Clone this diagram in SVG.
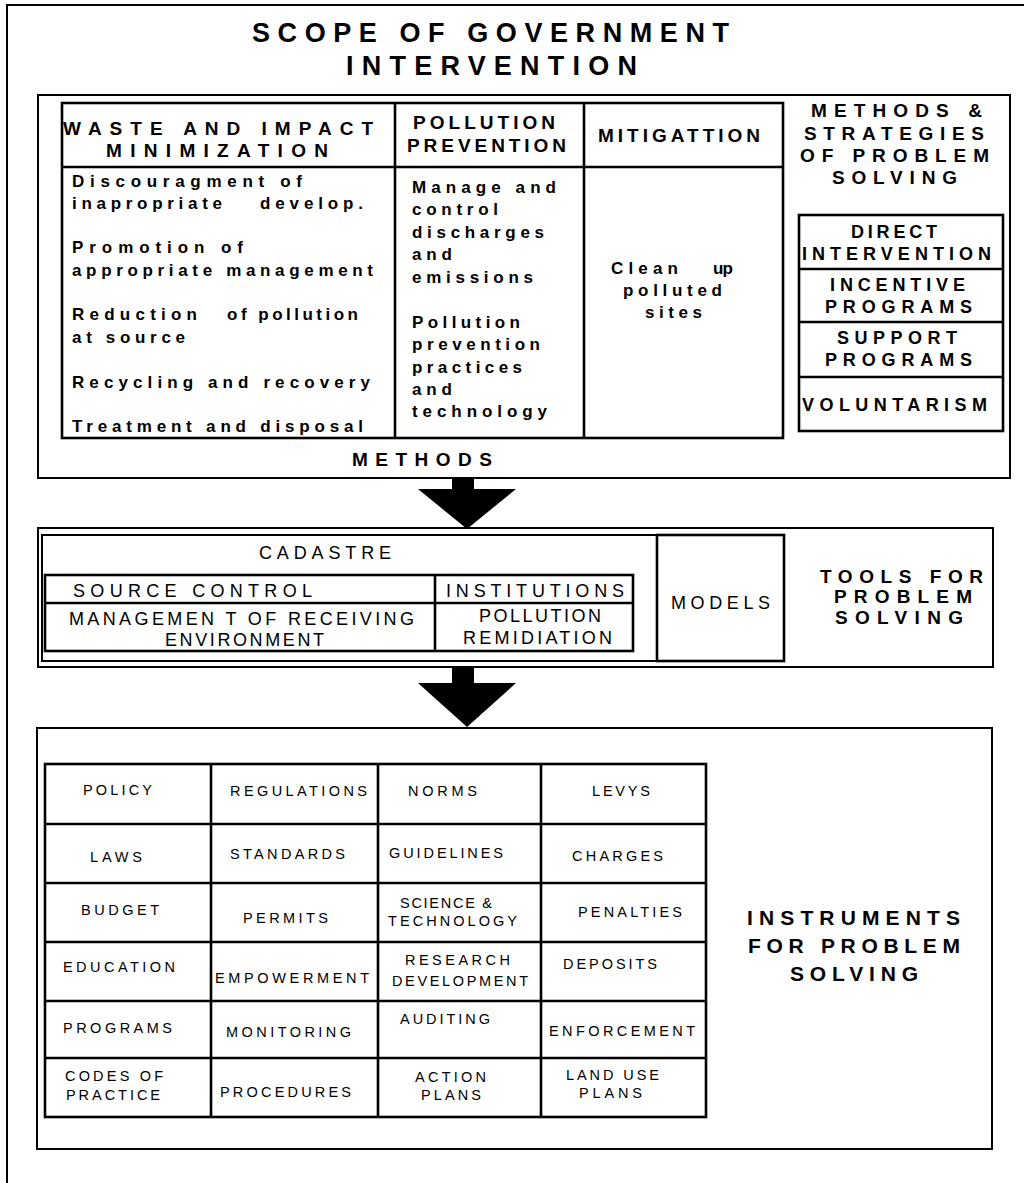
<svg xmlns="http://www.w3.org/2000/svg" width="1024" height="1183" viewBox="0 0 1024 1183">
<style>
text{font-family:"Liberation Sans",Arial,sans-serif;fill:#000}
.t{font-size:27px;font-weight:bold}
.h{font-size:19px;font-weight:bold}
.b{font-size:17px;font-weight:bold}
.s{font-size:18px;font-weight:bold}
.r{font-size:18px}
.g{font-size:14.5px}
.k{font-size:21px;font-weight:bold}
.box{fill:none;stroke:#000;stroke-width:2}
.thick{fill:none;stroke:#000;stroke-width:2.6}
.ln{stroke:#000;stroke-width:2.6}
</style>
<rect width="1024" height="1183" fill="#fff"/>
<g id="frame"><polyline points="7,1183 7,5 1024,5" class="box"/>
<text class="t" x="252" y="42" textLength="477" lengthAdjust="spacing">SCOPE OF GOVERNMENT</text>
<text class="t" x="346" y="75" textLength="291" lengthAdjust="spacing">INTERVENTION</text>
</g>
<g id="methods-box">
<rect x="38" y="95" width="972" height="383" class="box"/>
<rect x="62" y="103" width="721" height="335" class="thick"/>
<line x1="62" y1="167" x2="783" y2="167" class="ln"/>
<line x1="395" y1="103" x2="395" y2="438" class="ln"/>
<line x1="584" y1="103" x2="584" y2="438" class="ln"/>
<text class="h" x="63" y="135" textLength="310" lengthAdjust="spacing">WASTE AND IMPACT</text>
<text class="h" x="106" y="157" textLength="222" lengthAdjust="spacing">MINIMIZATION</text>
<text class="h" x="413" y="129" textLength="142" lengthAdjust="spacing">POLLUTION</text>
<text class="h" x="407" y="152" textLength="159" lengthAdjust="spacing">PREVENTION</text>
<text class="h" x="598" y="142" textLength="162" lengthAdjust="spacing">MITIGATTION</text>
<text class="b" x="72" y="187" textLength="230" lengthAdjust="spacing">Discouragment of</text>
<text class="b" x="72" y="209" textLength="150" lengthAdjust="spacing">inapropriate</text>
<text class="b" x="260" y="209" textLength="103" lengthAdjust="spacing">develop.</text>
<text class="b" x="72" y="253" textLength="171" lengthAdjust="spacing">Promotion of</text>
<text class="b" x="72" y="276" textLength="301" lengthAdjust="spacing">appropriate management</text>
<text class="b" x="72" y="320" textLength="125" lengthAdjust="spacing">Reduction</text>
<text class="b" x="227" y="320" textLength="131" lengthAdjust="spacing">of pollution</text>
<text class="b" x="72" y="343" textLength="113" lengthAdjust="spacing">at source</text>
<text class="b" x="72" y="388" textLength="298" lengthAdjust="spacing">Recycling and recovery</text>
<text class="b" x="72" y="432" textLength="291" lengthAdjust="spacing">Treatment and disposal</text>
<text class="b" x="412" y="193" textLength="144" lengthAdjust="spacing">Manage and</text>
<text class="b" x="412" y="215" textLength="86" lengthAdjust="spacing">control</text>
<text class="b" x="412" y="238" textLength="132" lengthAdjust="spacing">discharges</text>
<text class="b" x="412" y="260" textLength="40" lengthAdjust="spacing">and</text>
<text class="b" x="412" y="283" textLength="121" lengthAdjust="spacing">emissions</text>
<text class="b" x="412" y="328" textLength="108" lengthAdjust="spacing">Pollution</text>
<text class="b" x="412" y="350" textLength="128" lengthAdjust="spacing">prevention</text>
<text class="b" x="412" y="373" textLength="110" lengthAdjust="spacing">practices</text>
<text class="b" x="412" y="395" textLength="40" lengthAdjust="spacing">and</text>
<text class="b" x="412" y="417" textLength="135" lengthAdjust="spacing">technology</text>
<text class="b" x="611" y="274" textLength="67" lengthAdjust="spacing">Clean</text>
<text class="b" x="713" y="274" textLength="20" lengthAdjust="spacing">up</text>
<text class="b" x="623" y="296" textLength="99" lengthAdjust="spacing">polluted</text>
<text class="b" x="645" y="318" textLength="57" lengthAdjust="spacing">sites</text>
<text class="h" x="811" y="117" textLength="171" lengthAdjust="spacing">METHODS &amp;</text>
<text class="h" x="804" y="140" textLength="180" lengthAdjust="spacing">STRATEGIES</text>
<text class="h" x="800" y="162" textLength="189" lengthAdjust="spacing">OF PROBLEM</text>
<text class="h" x="832" y="184" textLength="125" lengthAdjust="spacing">SOLVING</text>
<text class="h" x="352" y="466" textLength="140" lengthAdjust="spacing">METHODS</text>
</g>
<g id="strategies">
<rect x="799" y="215" width="204" height="216" class="thick"/>
<line x1="799" y1="269" x2="1003" y2="269" class="ln"/>
<line x1="799" y1="322" x2="1003" y2="322" class="ln"/>
<line x1="799" y1="377" x2="1003" y2="377" class="ln"/>
<text class="s" x="851" y="238" textLength="86" lengthAdjust="spacing">DIRECT</text>
<text class="s" x="802" y="260" textLength="189" lengthAdjust="spacing">INTERVENTION</text>
<text class="s" x="830" y="291" textLength="135" lengthAdjust="spacing">INCENTIVE</text>
<text class="s" x="825" y="313" textLength="147" lengthAdjust="spacing">PROGRAMS</text>
<text class="s" x="837" y="344" textLength="120" lengthAdjust="spacing">SUPPORT</text>
<text class="s" x="825" y="366" textLength="147" lengthAdjust="spacing">PROGRAMS</text>
<text class="s" x="802" y="411" textLength="185" lengthAdjust="spacing">VOLUNTARISM</text>
</g>
<g id="connectors">
<rect x="452" y="478" width="22" height="12" fill="#000"/>
<polygon points="418,489 516,489 467,529" fill="#000"/>
<rect x="452" y="667" width="22" height="17" fill="#000"/>
<polygon points="418,683 516,683 467,727" fill="#000"/>
</g>
<g id="tools-box">
<rect x="38" y="528" width="955" height="139" class="box"/>
<rect x="42" y="535" width="615" height="126" class="box"/>
<rect x="657" y="535" width="127" height="126" class="thick"/>
<rect x="45" y="575" width="588" height="76" class="thick"/>
<line x1="45" y1="603" x2="633" y2="603" class="ln"/>
<line x1="435" y1="575" x2="435" y2="651" class="ln"/>
<text class="r" x="259" y="559" textLength="132" lengthAdjust="spacing">CADASTRE</text>
<text class="r" x="73" y="597" textLength="239" lengthAdjust="spacing">SOURCE CONTROL</text>
<text class="r" x="446" y="597" textLength="178" lengthAdjust="spacing">INSTITUTIONS</text>
<text class="r" x="69" y="625" textLength="345" lengthAdjust="spacing">MANAGEMEN T OF  RECEIVING</text>
<text class="r" x="165" y="646" textLength="159" lengthAdjust="spacing">ENVIRONMENT</text>
<text class="r" x="479" y="622" textLength="122" lengthAdjust="spacing">POLLUTION</text>
<text class="r" x="463" y="644" textLength="149" lengthAdjust="spacing">REMIDIATION</text>
<text class="r" x="671" y="609" textLength="99" lengthAdjust="spacing">MODELS</text>
<text class="h" x="820" y="583" textLength="163" lengthAdjust="spacing">TOOLS FOR</text>
<text class="h" x="834" y="603" textLength="138" lengthAdjust="spacing">PROBLEM</text>
<text class="h" x="835" y="624" textLength="128" lengthAdjust="spacing">SOLVING</text>
</g>
<g id="instruments-box">
<rect x="37" y="728" width="955" height="421" class="box"/>
<rect x="45" y="764" width="661" height="353" class="thick"/>
<line x1="211" y1="764" x2="211" y2="1117" class="ln"/>
<line x1="378" y1="764" x2="378" y2="1117" class="ln"/>
<line x1="541" y1="764" x2="541" y2="1117" class="ln"/>
<line x1="45" y1="824" x2="706" y2="824" class="ln"/>
<line x1="45" y1="883" x2="706" y2="883" class="ln"/>
<line x1="45" y1="942" x2="706" y2="942" class="ln"/>
<line x1="45" y1="1001" x2="706" y2="1001" class="ln"/>
<line x1="45" y1="1058" x2="706" y2="1058" class="ln"/>
<text class="g" x="83" y="795" textLength="69" lengthAdjust="spacing">POLICY</text>
<text class="g" x="230" y="796" textLength="137" lengthAdjust="spacing">REGULATIONS</text>
<text class="g" x="408" y="796" textLength="69" lengthAdjust="spacing">NORMS</text>
<text class="g" x="592" y="796" textLength="58" lengthAdjust="spacing">LEVYS</text>
<text class="g" x="90" y="862" textLength="52" lengthAdjust="spacing">LAWS</text>
<text class="g" x="230" y="859" textLength="115" lengthAdjust="spacing">STANDARDS</text>
<text class="g" x="389" y="858" textLength="114" lengthAdjust="spacing">GUIDELINES</text>
<text class="g" x="572" y="861" textLength="91" lengthAdjust="spacing">CHARGES</text>
<text class="g" x="81" y="915" textLength="78" lengthAdjust="spacing">BUDGET</text>
<text class="g" x="243" y="923" textLength="85" lengthAdjust="spacing">PERMITS</text>
<text class="g" x="400" y="908" textLength="92" lengthAdjust="spacing">SCIENCE &amp;</text>
<text class="g" x="388" y="926" textLength="129" lengthAdjust="spacing">TECHNOLOGY</text>
<text class="g" x="578" y="917" textLength="104" lengthAdjust="spacing">PENALTIES</text>
<text class="g" x="63" y="972" textLength="112" lengthAdjust="spacing">EDUCATION</text>
<text class="g" x="215" y="983" textLength="154" lengthAdjust="spacing">EMPOWERMENT</text>
<text class="g" x="405" y="965" textLength="105" lengthAdjust="spacing">RESEARCH</text>
<text class="g" x="392" y="986" textLength="136" lengthAdjust="spacing">DEVELOPMENT</text>
<text class="g" x="563" y="969" textLength="94" lengthAdjust="spacing">DEPOSITS</text>
<text class="g" x="63" y="1033" textLength="109" lengthAdjust="spacing">PROGRAMS</text>
<text class="g" x="226" y="1037" textLength="125" lengthAdjust="spacing">MONITORING</text>
<text class="g" x="400" y="1024" textLength="90" lengthAdjust="spacing">AUDITING</text>
<text class="g" x="549" y="1036" textLength="146" lengthAdjust="spacing">ENFORCEMENT</text>
<text class="g" x="65" y="1081" textLength="98" lengthAdjust="spacing">CODES OF</text>
<text class="g" x="66" y="1100" textLength="94" lengthAdjust="spacing">PRACTICE</text>
<text class="g" x="220" y="1097" textLength="131" lengthAdjust="spacing">PROCEDURES</text>
<text class="g" x="415" y="1082" textLength="71" lengthAdjust="spacing">ACTION</text>
<text class="g" x="421" y="1100" textLength="60" lengthAdjust="spacing">PLANS</text>
<text class="g" x="566" y="1080" textLength="93" lengthAdjust="spacing">LAND USE</text>
<text class="g" x="579" y="1098" textLength="63" lengthAdjust="spacing">PLANS</text>
<text class="k" x="747" y="925" textLength="213" lengthAdjust="spacing">INSTRUMENTS</text>
<text class="k" x="748" y="953" textLength="212" lengthAdjust="spacing">FOR PROBLEM</text>
<text class="k" x="790" y="981" textLength="128" lengthAdjust="spacing">SOLVING</text>
</g>
</svg>
